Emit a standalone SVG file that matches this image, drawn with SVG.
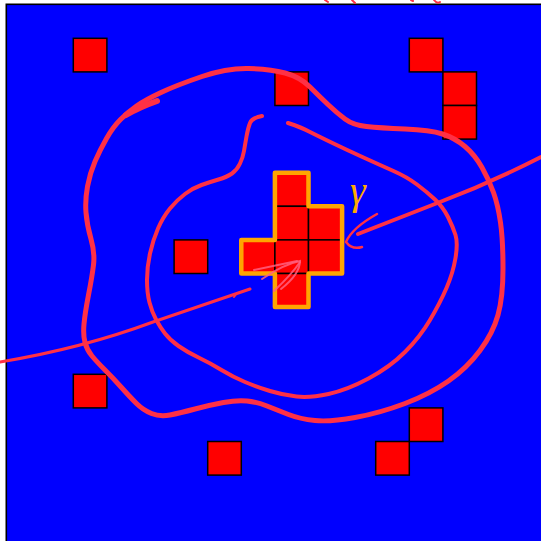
<svg xmlns="http://www.w3.org/2000/svg" width="541" height="541" viewBox="0 0 541 541">
<style>
.sq{fill:#ff0000;stroke:#000;stroke-width:1.5}
.ink{fill:none;stroke:#ff3045;stroke-linecap:round;stroke-linejoin:round}
.pink{fill:none;stroke:#ff6080;stroke-opacity:0.85;stroke-width:2;stroke-linecap:round}
</style>
<rect width="541" height="541" fill="#fff"/>
<rect x="6.3" y="4.3" width="540" height="540" fill="#0000ff" stroke="#000" stroke-width="1.6"/>
<g id="squares">
<rect id="s1" class="sq" x="73.3" y="38.3" width="33.6" height="33.6"/>
<rect id="s2" class="sq" x="409.3" y="38.3" width="33.6" height="33.6"/>
<rect id="s3" class="sq" x="442.9" y="71.9" width="33.6" height="33.6"/>
<rect id="s4" class="sq" x="442.9" y="105.5" width="33.6" height="33.6"/>
<rect id="s5" class="sq" x="274.9" y="71.9" width="33.6" height="33.6"/>
<rect id="s6" class="sq" x="174.1" y="239.9" width="33.6" height="33.6"/>
<rect id="s7" class="sq" x="73.3" y="374.3" width="33.6" height="33.6"/>
<rect id="s8" class="sq" x="207.7" y="441.5" width="33.6" height="33.6"/>
<rect id="s9" class="sq" x="409.3" y="407.9" width="33.6" height="33.6"/>
<rect id="s10" class="sq" x="375.7" y="441.5" width="33.6" height="33.6"/>
</g>
<g id="cross">
<rect class="sq" x="274.9" y="172.7" width="33.6" height="33.6"/>
<rect class="sq" x="274.9" y="206.3" width="33.6" height="33.6"/>
<rect class="sq" x="308.5" y="206.3" width="33.6" height="33.6"/>
<rect class="sq" x="241.3" y="239.9" width="33.6" height="33.6"/>
<rect class="sq" x="274.9" y="239.9" width="33.6" height="33.6"/>
<rect class="sq" x="308.5" y="239.9" width="33.6" height="33.6"/>
<rect class="sq" x="274.9" y="273.5" width="33.6" height="33.6"/>
<path d="M274.9,172.7 H308.5 V206.3 H342.1 V273.5 H308.5 V307.1 H274.9 V273.5 H241.3 V239.9 H274.9 Z" fill="none" stroke="#ffa500" stroke-width="4.5" stroke-linejoin="round"/>
</g>
<g id="connectors">
<path class="ink" stroke-width="5" d="M136.5,106 Q145,100 161,92.5 Q177,85 202,76.5 Q227,68 248.5,68.5 Q270,69 285,73 Q300,77 310,87 Q320,97 328.5,105 Q337,113 345,119 Q353,125 366.5,126.5 Q380,128 405,129 Q430,130 442.5,134 Q455,138 465,146.5 Q475,155 482,167.5 Q489,180 493.5,192.5 Q498,205 500.5,222.5 Q503,240 503,268.5 Q503,297 498,315 Q493,333 480,350.5 Q467,368 448.5,381 Q430,394 405,403.5 Q380,413 355,417.5 Q330,422 315,420.5 Q300,419 288.5,414.5 Q277,410 267,406 Q257,402 247,401 Q237,400 223.5,402.5 Q210,405 195,409 Q180,413 170,415 Q160,417 151.5,413.5 Q143,410 136.5,403.5 Q130,397 121.5,387.5 Q113,378 105,370 Q97,362 92,356 Q87,350 85,342.5 Q83,335 84,324 Q85,313 88.5,295 Q92,277 93.5,265 Q95,253 91,239 Q87,225 86,212.5 Q85,200 87.5,186.5 Q90,173 95,161.5 Q100,150 106.5,138.5 Q113,127 120.5,119.5 Q128,112 136.5,106 Z"/>
<path class="ink" stroke-width="6" d="M126,115 Q140,107 157,101"/>
<path class="ink" stroke-width="4" d="M262,116 Q252,118 250,123 Q248,128 246.5,136.5 Q245,145 244,151 Q243,157 240,163.5 Q237,170 232,173.5 Q227,177 218.5,179.5 Q210,182 201.5,185 Q193,188 185,194 Q177,200 170,208.5 Q163,217 158,228.5 Q153,240 150,253.5 Q147,267 147,280 Q147,293 149.5,302.5 Q152,312 156,319.5 Q160,327 165,333.5 Q170,340 178.5,346 Q187,352 198.5,357.5 Q210,363 221.5,370 Q233,377 245,382 Q257,387 270,391 Q283,395 296.5,396.5 Q310,398 328.5,394 Q347,390 368.5,378.5 Q390,367 405,352 Q420,337 430,320 Q440,303 446.5,288 Q453,273 455.5,258 Q458,243 455.5,235 Q453,227 448,217 Q443,207 435,199.5 Q427,192 417,184.5 Q407,177 393.5,171 Q380,165 363.5,157.5 Q347,150 333.5,143.5 Q320,137 310,132 Q300,127 294,125 L288,123"/>
<path class="ink" stroke-width="3" d="M0,362 C60,352 110,338 153,322 L250,289"/>
<path class="ink" stroke-width="2" d="M237,293 L234,297"/>
<path class="ink" stroke-width="4" d="M358,234 L440,202 Q490,183 541,157"/>
<path class="ink" stroke-width="2.5" d="M377,214 Q352,228 346,242 Q352,250 362,247"/>
<path class="pink" d="M254,270 L297,261"/>
<path class="pink" d="M262,279 Q284,264 300,261 Q300,274 281,289"/>
<path class="pink" d="M274,291 Q292,274 300,262"/>
<path class="ink" stroke-width="2" d="M325,0 L328,2 M352,0 L355,3 M411,0 L413,1 M434,0 Q437,4 440,2"/>
</g>
<text x="350" y="204" font-family="Liberation Serif, serif" font-style="italic" font-size="40" fill="#ffaa00">γ</text>
</svg>
